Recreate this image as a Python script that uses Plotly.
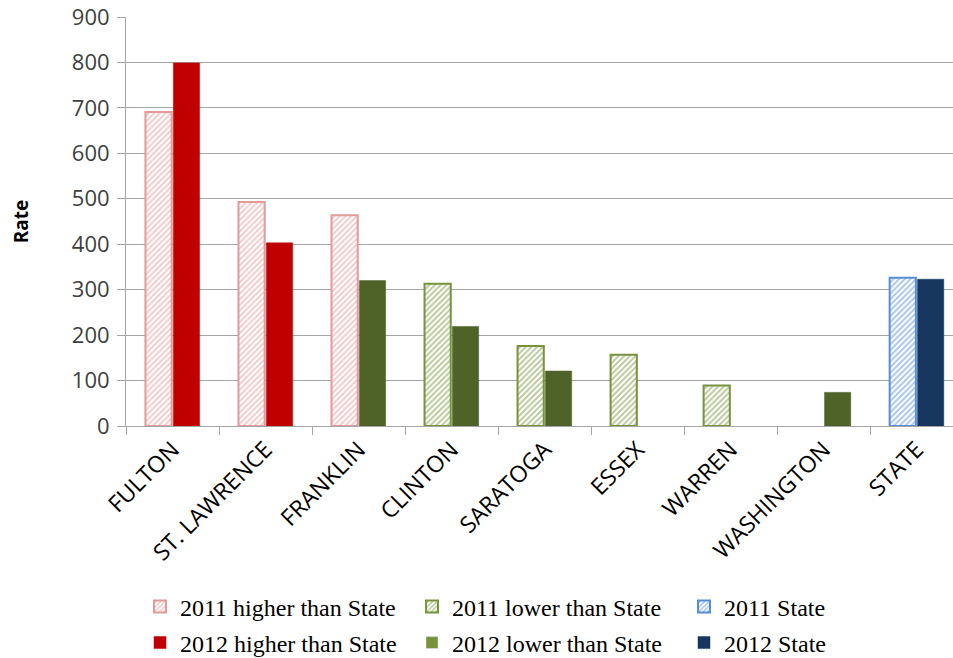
import plotly.graph_objects as go

categories = ["FULTON", "ST. LAWRENCE", "FRANKLIN", "CLINTON", "SARATOGA",
              "ESSEX", "WARREN", "WASHINGTON", "STATE"]

# 2011 values by group (None = not in that group)
y2011_higher = [691, 493, 464, None, None, None, None, None, None]
y2011_lower = [None, None, None, 313, 176, 157, 89, None, None]
y2011_state = [None, None, None, None, None, None, None, None, 326]
# 2012 values by group
y2012_higher = [799, 403, None, None, None, None, None, None, None]
y2012_lower = [None, None, 320, 219, 121, None, None, 74, None]
y2012_state = [None, None, None, None, None, None, None, None, 323]

yticks = [0, 100, 200, 300, 400, 500, 600, 700, 800, 900]

fig = go.Figure()


def hatched(name, y, color, legend, group, showlegend=True):
    return go.Bar(
        name=name, x=categories, y=y, offsetgroup=group, legend=legend,
        showlegend=showlegend,
        marker=dict(color="white",
                    line=dict(color=color, width=2),
                    pattern=dict(shape="/", fgcolor=color, bgcolor="white",
                                 size=4, solidity=0.5, fillmode="overlay")),
    )


def solid(name, y, color, legend, group, showlegend=True):
    return go.Bar(
        name=name, x=categories, y=y, offsetgroup=group, legend=legend,
        showlegend=showlegend,
        marker=dict(color=color, line=dict(color=color, width=0.5)),
    )


fig.add_trace(hatched("2011 higher than State", y2011_higher, "#E29A9A", "legend", "a"))
fig.add_trace(hatched("2011 lower than State", y2011_lower, "#77933C", "legend", "a"))
fig.add_trace(hatched("2011 State", y2011_state, "#558ED5", "legend", "a"))

fig.add_trace(solid("2012 higher than State", y2012_higher, "#C00000", "legend2", "b"))
fig.add_trace(solid("2012 lower than State", y2012_lower, "#4F6228", "legend2", "b", showlegend=False))
# legend entry for 2012 lower (legend swatch is lighter green in the reference)
fig.add_trace(go.Bar(name="2012 lower than State", x=[categories[0]], y=[None],
                     offsetgroup="b", legend="legend2",
                     marker=dict(color="#77933C")))
fig.add_trace(solid("2012 State", y2012_state, "#17375E", "legend2", "b"))

legend_font = dict(family="Liberation Serif", size=24, color="#000000")

fig.update_layout(
    width=953, height=658,
    margin=dict(l=126, r=0, t=17, b=232),
    paper_bgcolor="white", plot_bgcolor="white",
    barmode="group", bargap=0.4, bargroupgap=0.06,
    font=dict(family="Open Sans", color="#000000"),
    xaxis=dict(
        type="category", range=[-0.5, 8.39],
        tickson="boundaries", ticks="outside", ticklen=8, tickcolor="#A6A6A6",
        showline=True, linecolor="#A6A6A6", linewidth=1,
        tickangle=-45, tickfont=dict(size=23, color="#000000", family="Open Sans"),
        showgrid=False, automargin=False,
    ),
    yaxis=dict(
        range=[0, 900], tickvals=yticks, ticktext=[str(v) for v in yticks],
        ticks="outside", ticklen=8, tickcolor="#A6A6A6",
        showline=True, linecolor="#A6A6A6", linewidth=1,
        showgrid=True, gridcolor="#A6A6A6", gridwidth=1,
        zeroline=False, automargin=False, ticklabelstandoff=3,
        tickfont=dict(size=22, color="#404040", family="Open Sans"),
        title=dict(text="<b>Rate</b>", font=dict(size=19, color="#000000"), standoff=38),
    ),
    legend=dict(orientation="h", xref="container", yref="container",
                x=140 / 953, xanchor="left", y=1 - 607 / 658, yanchor="middle",
                font=legend_font,
                entrywidth=227, entrywidthmode="pixels", bgcolor="rgba(0,0,0,0)",
                traceorder="normal"),
    legend2=dict(orientation="h", xref="container", yref="container",
                 x=140 / 953, xanchor="left", y=1 - 643 / 658, yanchor="middle",
                 font=legend_font,
                 entrywidth=227, entrywidthmode="pixels", bgcolor="rgba(0,0,0,0)",
                 traceorder="normal"),
)

fig.write_html("out.html")
